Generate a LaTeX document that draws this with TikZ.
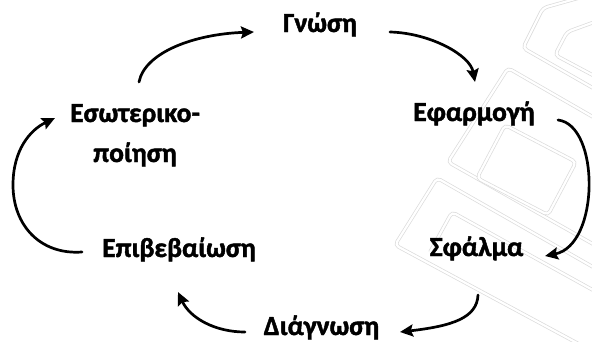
\documentclass[tikz,border=0pt]{standalone}
\usepackage{fontspec}
\setmainfont{Carlito}
\newfontfamily\lblfont[FakeBold=1.6]{Carlito Bold}
\usetikzlibrary{arrows.meta}
\begin{document}
\begin{tikzpicture}[x=1bp,y=-1bp,
  lbl/.style={font=\lblfont\fontsize{27.5bp}{40bp}\selectfont, inner sep=0pt, anchor=base},
  cyc/.style={line width=2.7bp, line cap=round, -{Stealth[length=13bp,width=12bp,inset=2bp]}},
  wm/.style={draw=gray!28, line width=0.7bp, double=white, double distance=2.2bp, rounded corners=4bp}]
\useasboundingbox (0,0) rectangle (592,341);
% faint watermark
\begin{scope}
\clip (0,0) rectangle (592,341);
\draw[wm] (600,92) -- (523,48) -- (543,8) -- (600,-8);
\draw[wm] (600,79) -- (555,55) -- (567,32) -- (600,20);
\draw[wm] (600,121) -- (508,68) -- (448,162) -- (600,248);
\draw[wm] (505,125) -- (477,178) -- (548,215) -- (576,162) -- cycle;
\draw[wm] (600,271) -- (437,178) -- (395,245) -- (590,350);
\draw[wm] (600,294) -- (452,212) -- (430,252);
\end{scope}
% labels
\node[lbl] (gnosi) at (320,32) {Γνώση};
\node[lbl] (efarm) at (474,121) {Εφαρμογή};
\node[lbl] (sfalma) at (476.5,256) {Σφάλμα};
\node[lbl] (diag) at (321.5,335) {Διάγνωση};
\node[lbl] (epib) at (179,257) {Επιβεβαίωση};
\node[lbl, align=center] (esot) at (135,162) {Εσωτερικο-\\ποίηση};
% connector ends
\coordinate (a1) at (139,82);  \coordinate (a1e) at (254,32);
\coordinate (a2) at (390,32);  \coordinate (a2e) at (475,82);
\coordinate (a3) at (558,120); \coordinate (a3e) at (545,256);
\coordinate (a4) at (478,295); \coordinate (a4e) at (400,332);
\coordinate (a5) at (245,332); \coordinate (a5e) at (178,292);
\coordinate (a6) at (82,252);  \coordinate (a6m) at (13,185); \coordinate (a6e) at (55,118);
% arrows
\draw[cyc] (a1) .. controls (145,52) and (195,34) .. (a1e);
\draw[cyc] (a2) .. controls (430,33) and (470,55) .. (a2e);
\draw[cyc] (a3) .. controls (600,125) and (600,245) .. (a3e);
\draw[cyc] (a4) .. controls (477,318) and (452,326) .. (a4e);
\draw[cyc] (a5) .. controls (215,332) and (190,318) .. (a5e);
\draw[cyc] (a6) .. controls (40,255) and (13,225) .. (a6m) .. controls (13,150) and (30,130) .. (a6e);
\end{tikzpicture}
\end{document}
